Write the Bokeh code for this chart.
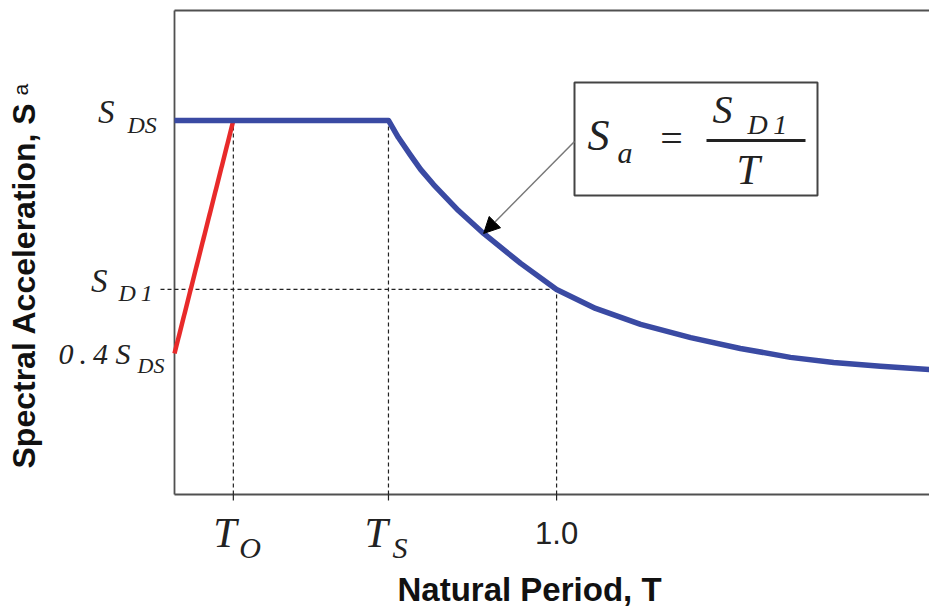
import math

from bokeh.embed import file_html
from bokeh.models import Arrow, Label, NormalHead, Range1d
from bokeh.plotting import figure
from bokeh.resources import INLINE

# ---- spectrum parameters (normalised: S_DS = 1) ----
SDS = 1.0          # short-period spectral acceleration
SD1 = 0.565        # 1-second spectral acceleration
T0 = 0.154         # start of the plateau
TS = 0.560         # end of the plateau
T_ONE = 1.0

# rising branch from 0.4 S_DS at T = 0 up to S_DS at T0
ramp_T = [0.0, T0]
ramp_Sa = [0.4 * SDS, SDS]

# plateau followed by the descending branch Sa = S_D1 / T
spec_T = [0.0, 0.560, 0.586, 0.618, 0.644, 0.678, 0.743, 0.809, 0.906, 1.0,
          1.102, 1.220, 1.351, 1.481, 1.612, 1.725, 1.848, 1.976]
spec_Sa = [1.0, 1.0, 0.956, 0.910, 0.874, 0.835, 0.768, 0.709, 0.632, 0.565,
           0.516, 0.475, 0.441, 0.413, 0.390, 0.377, 0.367, 0.359]
ARROW_AT = 7       # descending-branch point the arrow points to

x_ticks = [T0, TS, T_ONE]

# plotting window of the frame
T_MAX = 1.976
SA_BASE = 0.037
SA_TOP = 1.283

# ---- canvas: the frame covers the whole page, ranges extend past the axes ----
W, H = 929, 608
X_LO, X_HI = -0.4554, T_MAX
Y_LO, Y_HI = -0.2565, 1.3088
DX = (X_HI - X_LO) / W      # period units per pixel
DY = (Y_HI - Y_LO) / H      # acceleration units per pixel
BASELINE_SHIFT = 0.38       # label anchor sits this many em above the glyph baseline


def tx(px):
    """canvas x pixel -> period value"""
    return X_LO + px * DX


def vy(py):
    """canvas y pixel (from top) -> acceleration value"""
    return Y_HI - py * DY


BLUE = "#3a4aa3"
RED = "#e82a2a"
INK = "#222222"
FRAME = "#505050"
SERIF = "Liberation Serif"
SANS = "Liberation Sans"

p = figure(width=W, height=H, x_range=Range1d(X_LO, X_HI), y_range=Range1d(Y_LO, Y_HI),
           output_backend="svg", toolbar_location=None, min_border=0)
p.xaxis.visible = False
p.yaxis.visible = False
p.xgrid.visible = False
p.ygrid.visible = False
p.outline_line_color = None
p.background_fill_color = "white"
p.border_fill_color = "white"

# frame: left, bottom and top edges
p.segment(x0=[0.0, 0.0, 0.0], y0=[SA_BASE, SA_BASE, SA_TOP],
          x1=[0.0, T_MAX, T_MAX], y1=[SA_TOP, SA_BASE, SA_TOP],
          line_color=FRAME, line_width=1.8)

# tick marks below the period axis
p.segment(x0=x_ticks, y0=[SA_BASE] * 3, x1=x_ticks, y1=[SA_BASE - 6 * DY] * 3,
          line_color=INK, line_width=1.2)

# dashed reference lines
p.segment(x0=[T0, TS, T_ONE, -14 * DX], y0=[SA_BASE, SA_BASE, SA_BASE, SD1],
          x1=[T0, TS, T_ONE, T_ONE], y1=[SDS, SDS, SD1, SD1],
          line_color=INK, line_width=1.2, line_dash="4 3")

# spectrum branches
p.line(ramp_T, ramp_Sa, line_color=RED, line_width=4.5)
p.line(spec_T, spec_Sa, line_color=BLUE, line_width=5.5, line_join="round")

# formula box
box_l, box_r, box_t, box_b = tx(574), tx(817), vy(82), vy(195)
p.quad(left=[box_l], right=[box_r], top=[box_t], bottom=[box_b],
       fill_color="white", line_color="#444444", line_width=2)
# fraction bar
p.segment(x0=[tx(706)], y0=[vy(140)], x1=[tx(805)], y1=[vy(140)],
          line_color=INK, line_width=3)

p.add_layout(Arrow(end=NormalHead(size=16, fill_color="black", line_color="black"),
                   x_start=box_l, y_start=vy(141),
                   x_end=spec_T[ARROW_AT], y_end=spec_Sa[ARROW_AT],
                   line_color="#777777", line_width=1.5))


def txt(x, base_py, text, size, font=SERIF, style="italic", align="left",
        x_offset=0, color=INK):
    """horizontal label whose glyph baseline lands on canvas row base_py"""
    p.add_layout(Label(x=x, y=vy(base_py - BASELINE_SHIFT * size), text=text,
                       text_font=font, text_font_style=style,
                       text_font_size=f"{size}px", text_align=align,
                       text_baseline="alphabetic", x_offset=x_offset,
                       text_color=color))


def vtxt(base_px, start_py, text, size, font=SANS, style="bold", color="#111111"):
    """label reading bottom-to-top, baseline on canvas column base_px"""
    p.add_layout(Label(x=tx(base_px - BASELINE_SHIFT * size), y=vy(start_py), text=text,
                       text_font=font, text_font_style=style,
                       text_font_size=f"{size}px", text_align="left",
                       text_baseline="alphabetic", angle=math.pi / 2,
                       text_color=color))


THIN = "\u2009"

# acceleration tick labels
txt(0.0, 124, "S", 33, align="right", x_offset=-60)
txt(0.0, 134, "DS", 24, x_offset=-47)
txt(0.0, 293, "S", 33, align="right", x_offset=-67)
txt(0.0, 302, f"D{THIN}1", 24, x_offset=-56)
txt(0.0, 364, f"0{THIN}.{THIN}4 S", 30, align="right", x_offset=-44)
txt(0.0, 373, "DS", 22, x_offset=-37)

# period tick labels
txt(T0, 548, "T", 42, x_offset=-20)
txt(T0, 558, "O", 30, x_offset=6)
txt(TS, 548, "T", 42, x_offset=-24)
txt(TS, 558, "S", 30, x_offset=4)
txt(T_ONE, 544, "1.0", 31, font=SANS, style="normal", align="center")

# axis titles
txt(tx(397), 602, "Natural Period, T", 33, font=SANS, style="bold", color="#111111")
vtxt(36, 468, "Spectral Acceleration, S", 32)
vtxt(28, 95, "a", 21, style="normal")

# formula text
txt(tx(587), 152, "S", 44)
txt(tx(617), 163, "a", 30)
txt(tx(671), 153, "=", 40, style="normal", align="center")
txt(tx(712), 124, "S", 40)
txt(tx(747), 135, f"D{THIN}1", 28)
txt(tx(736), 185, "T", 42)

open("out.html", "w").write(file_html(p, INLINE))
